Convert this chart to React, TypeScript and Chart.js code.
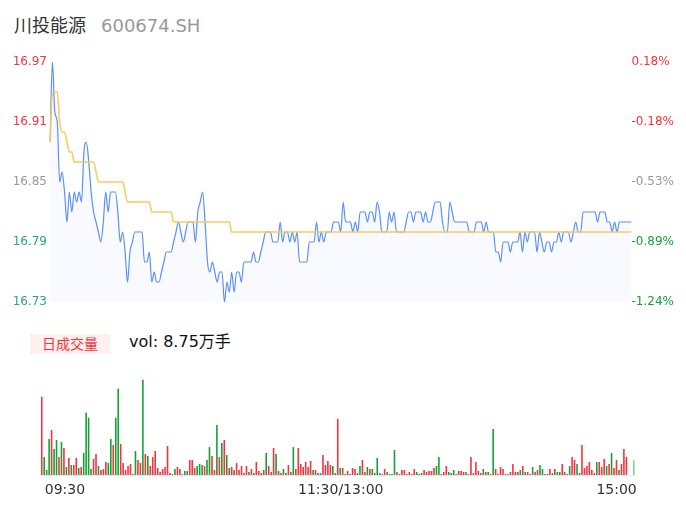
import { useEffect, useRef } from 'react';
import { Chart, registerables } from 'chart.js';

Chart.register(...registerables);

const FONT = '"DejaVu Sans", "Noto Sans CJK SC", sans-serif';

const STOCK_NAME = '川投能源';
const STOCK_CODE = '600674.SH';
const VOL_TEXT = 'vol: 8.75万手';
const VOL_TAG = '日成交量';

const PRICE_TICKS = [16.73, 16.79, 16.85, 16.91, 16.97];
const PRICE_TICK_LABELS = ['16.73', '16.79', '16.85', '16.91', '16.97'];
const PCT_TICK_LABELS = ['-1.24%', '-0.89%', '-0.53%', '-0.18%', '0.18%'];
const X_TICK_LABELS = ['09:30', '11:30/13:00', '15:00'];

const RED = '#f5333f';
const GREEN = '#17a035';
const LEFT_GREEN = '#2aa67d';
const GRAY = '#999999';
const LEFT_TICK_COLORS = [LEFT_GREEN, LEFT_GREEN, GRAY, RED, RED];
const RIGHT_TICK_COLORS = [GREEN, GREEN, GRAY, RED, RED];

// minute price (241 points, 09:30 .. 11:30/13:00 .. 15:00)
const PRICE = [
  16.89, 16.97, 16.92, 16.91, 16.85, 16.86, 16.84, 16.81, 16.84, 16.82,
  16.84, 16.83, 16.84, 16.83, 16.88, 16.89, 16.87, 16.84, 16.82, 16.81,
  16.80, 16.79, 16.81, 16.84, 16.82, 16.84, 16.84, 16.84, 16.82, 16.79,
  16.80, 16.78, 16.75, 16.78, 16.79, 16.80, 16.80, 16.80, 16.80, 16.77,
  16.77, 16.78, 16.75, 16.76, 16.75, 16.75, 16.76, 16.77, 16.78, 16.78,
  16.78, 16.79, 16.80, 16.81, 16.80, 16.79, 16.80, 16.81, 16.81, 16.81,
  16.79, 16.82, 16.83, 16.84, 16.81, 16.77, 16.76, 16.77, 16.76, 16.75,
  16.76, 16.76, 16.73, 16.75, 16.74, 16.76, 16.74, 16.76, 16.76, 16.75,
  16.77, 16.77, 16.77, 16.77, 16.78, 16.77, 16.77, 16.78, 16.79, 16.80,
  16.80, 16.80, 16.79, 16.79, 16.79, 16.81, 16.79, 16.80, 16.80, 16.79,
  16.80, 16.79, 16.80, 16.77, 16.77, 16.77, 16.77, 16.79, 16.79, 16.79,
  16.81, 16.79, 16.80, 16.79, 16.80, 16.80, 16.80, 16.81, 16.81, 16.81,
  16.80, 16.83, 16.81, 16.81, 16.81, 16.80, 16.81, 16.80, 16.82, 16.82,
  16.82, 16.81, 16.82, 16.82, 16.81, 16.83, 16.82, 16.80, 16.80, 16.80,
  16.82, 16.81, 16.82, 16.80, 16.80, 16.80, 16.80, 16.81, 16.82, 16.82,
  16.81, 16.82, 16.82, 16.82, 16.81, 16.82, 16.81, 16.81, 16.82, 16.83,
  16.83, 16.83, 16.81, 16.80, 16.80, 16.83, 16.82, 16.81, 16.81, 16.81,
  16.81, 16.81, 16.81, 16.80, 16.80, 16.80, 16.81, 16.81, 16.81, 16.80,
  16.81, 16.80, 16.80, 16.80, 16.78, 16.78, 16.77, 16.79, 16.79, 16.79,
  16.78, 16.79, 16.79, 16.79, 16.80, 16.78, 16.80, 16.79, 16.80, 16.80,
  16.80, 16.78, 16.80, 16.79, 16.78, 16.79, 16.79, 16.78, 16.79, 16.79,
  16.80, 16.79, 16.80, 16.80, 16.80, 16.79, 16.80, 16.81, 16.80, 16.80,
  16.82, 16.82, 16.82, 16.82, 16.82, 16.82, 16.81, 16.82, 16.82, 16.82,
  16.81, 16.81, 16.80, 16.81, 16.80, 16.81, 16.81, 16.81, 16.81, 16.81,
  16.81,
];

// average price line
const AVG = [
  16.89, 16.94, 16.94, 16.94, 16.91, 16.90, 16.90, 16.89, 16.88, 16.88,
  16.87, 16.87, 16.87, 16.87, 16.87, 16.87, 16.87, 16.87, 16.87, 16.86,
  16.85, 16.85, 16.85, 16.85, 16.85, 16.85, 16.85, 16.85, 16.85, 16.85,
  16.85, 16.84, 16.83, 16.83, 16.83, 16.83, 16.83, 16.83, 16.83, 16.83,
  16.83, 16.83, 16.82, 16.82, 16.82, 16.82, 16.82, 16.82, 16.82, 16.82,
  16.82, 16.81, 16.81, 16.81, 16.81, 16.81, 16.81, 16.81, 16.81, 16.81,
  16.81, 16.81, 16.81, 16.81, 16.81, 16.81, 16.81, 16.81, 16.81, 16.81,
  16.81, 16.81, 16.81, 16.81, 16.81, 16.80, 16.80, 16.80, 16.80, 16.80,
  16.80, 16.80, 16.80, 16.80, 16.80, 16.80, 16.80, 16.80, 16.80, 16.80,
  16.80, 16.80, 16.80, 16.80, 16.80, 16.80, 16.80, 16.80, 16.80, 16.80,
  16.80, 16.80, 16.80, 16.80, 16.80, 16.80, 16.80, 16.80, 16.80, 16.80,
  16.80, 16.80, 16.80, 16.80, 16.80, 16.80, 16.80, 16.80, 16.80, 16.80,
  16.80, 16.80, 16.80, 16.80, 16.80, 16.80, 16.80, 16.80, 16.80, 16.80,
  16.80, 16.80, 16.80, 16.80, 16.80, 16.80, 16.80, 16.80, 16.80, 16.80,
  16.80, 16.80, 16.80, 16.80, 16.80, 16.80, 16.80, 16.80, 16.80, 16.80,
  16.80, 16.80, 16.80, 16.80, 16.80, 16.80, 16.80, 16.80, 16.80, 16.80,
  16.80, 16.80, 16.80, 16.80, 16.80, 16.80, 16.80, 16.80, 16.80, 16.80,
  16.80, 16.80, 16.80, 16.80, 16.80, 16.80, 16.80, 16.80, 16.80, 16.80,
  16.80, 16.80, 16.80, 16.80, 16.80, 16.80, 16.80, 16.80, 16.80, 16.80,
  16.80, 16.80, 16.80, 16.80, 16.80, 16.80, 16.80, 16.80, 16.80, 16.80,
  16.80, 16.80, 16.80, 16.80, 16.80, 16.80, 16.80, 16.80, 16.80, 16.80,
  16.80, 16.80, 16.80, 16.80, 16.80, 16.80, 16.80, 16.80, 16.80, 16.80,
  16.80, 16.80, 16.80, 16.80, 16.80, 16.80, 16.80, 16.80, 16.80, 16.80,
  16.80, 16.80, 16.80, 16.80, 16.80, 16.80, 16.80, 16.80, 16.80, 16.80,
  16.80,
];

// minute volume (手)
const VOL = [
  2418, 558, 155, 1116, 1395, 806, 1085, 558, 1023, 837,
  248, 527, 310, 310, 527, 217, 248, 682, 1922, 1767,
  186, 496, 651, 279, 155, 186, 403, 372, 1116, 930,
  1767, 2666, 961, 372, 155, 279, 341, 31, 744, 465,
  372, 2945, 651, 589, 279, 558, 744, 217, 93, 186,
  248, 899, 62, 31, 186, 248, 186, 31, 124, 124,
  465, 465, 217, 279, 341, 310, 279, 465, 868, 589,
  155, 1550, 558, 992, 1085, 620, 217, 248, 155, 372,
  155, 279, 62, 279, 93, 186, 62, 403, 124, 62,
  155, 682, 279, 93, 837, 651, 124, 62, 186, 62,
  310, 93, 868, 186, 837, 341, 248, 403, 248, 434,
  155, 155, 62, 62, 620, 310, 434, 310, 279, 62,
  1736, 217, 217, 31, 124, 31, 217, 186, 62, 279,
  465, 93, 248, 186, 186, 62, 527, 62, 31, 186,
  93, 31, 31, 775, 93, 31, 155, 155, 31, 93,
  31, 186, 93, 31, 62, 155, 93, 124, 124, 217,
  279, 558, 31, 93, 279, 93, 62, 155, 31, 124,
  124, 93, 93, 31, 558, 62, 403, 124, 62, 186,
  93, 93, 31, 1426, 186, 31, 248, 186, 31, 31,
  93, 341, 93, 93, 155, 279, 93, 93, 31, 248,
  93, 155, 310, 186, 31, 31, 186, 62, 186, 93,
  93, 341, 93, 31, 279, 558, 465, 341, 62, 930,
  217, 279, 403, 155, 62, 403, 403, 248, 496, 279,
  341, 682, 217, 465, 155, 341, 806, 558, 0, 0,
  465,
];

// 1 = up (red), 0 = down (green), 2 = closing auction
const VOL_DIR = [
  1, 0, 0, 0, 1, 0, 0, 1, 0, 1,
  0, 1, 0, 1, 1, 0, 1, 0, 0, 0,
  0, 1, 1, 0, 1, 1, 1, 0, 0, 1,
  0, 0, 1, 1, 1, 1, 1, 1, 0, 1,
  1, 0, 1, 0, 1, 1, 1, 1, 1, 1,
  1, 1, 1, 0, 0, 1, 1, 1, 0, 0,
  1, 1, 1, 0, 0, 0, 1, 0, 0, 1,
  1, 0, 1, 0, 1, 0, 1, 1, 0, 1,
  1, 1, 1, 1, 0, 1, 1, 1, 1, 1,
  1, 0, 1, 1, 1, 0, 1, 1, 0, 1,
  1, 0, 0, 1, 1, 1, 1, 1, 1, 1,
  0, 1, 0, 0, 1, 1, 1, 1, 0, 1,
  1, 0, 1, 0, 1, 0, 1, 1, 0, 0,
  1, 1, 0, 1, 0, 0, 0, 1, 1, 1,
  0, 0, 0, 0, 1, 1, 1, 1, 0, 1,
  1, 1, 0, 0, 0, 1, 1, 1, 1, 1,
  0, 0, 1, 1, 1, 0, 0, 0, 1, 1,
  1, 1, 0, 1, 1, 1, 1, 1, 1, 0,
  1, 0, 1, 0, 1, 1, 1, 1, 1, 0,
  1, 1, 1, 1, 0, 1, 0, 1, 1, 0,
  1, 1, 0, 0, 1, 1, 1, 0, 1, 0,
  0, 1, 1, 1, 0, 1, 1, 0, 1, 1,
  1, 1, 1, 1, 1, 0, 1, 1, 1, 0,
  1, 0, 1, 1, 0, 1, 1, 1, 1, 1,
  2,
];

function buildMinuteLabels(): string[] {
  const out: string[] = [];
  const pad = (n: number) => (n < 10 ? '0' + n : '' + n);
  for (let m = 9 * 60 + 30; m < 11 * 60 + 30; m++) out.push(pad(Math.floor(m / 60)) + ':' + pad(m % 60));
  out.push('11:30/13:00');
  for (let m = 13 * 60 + 1; m <= 15 * 60; m++) out.push(pad(Math.floor(m / 60)) + ':' + pad(m % 60));
  return out;
}
const MINUTES = buildMinuteLabels();

export default function App() {
  const priceRef = useRef<HTMLCanvasElement>(null);
  const volRef = useRef<HTMLCanvasElement>(null);

  useEffect(() => {
    const price = new Chart(priceRef.current!, {
      type: 'line',
      data: {
        labels: MINUTES,
        datasets: [
          {
            data: AVG,
            borderColor: 'rgba(250,200,88,0.95)',
            borderWidth: 1.6,
            pointRadius: 0,
            fill: false,
            cubicInterpolationMode: 'monotone',
            yAxisID: 'y',
          },
          {
            data: PRICE,
            borderColor: '#5b8ff9',
            borderWidth: 1.2,
            pointRadius: 0,
            fill: 'start',
            backgroundColor: 'rgba(91,143,249,0.045)',
            cubicInterpolationMode: 'monotone',
            yAxisID: 'y',
          },
        ],
      },
      options: {
        responsive: false,
        animation: false,
        layout: { padding: { top: 12, bottom: 12, left: 0, right: 0 } },
        plugins: { legend: { display: false }, tooltip: { enabled: false } },
        scales: {
          x: { display: false },
          y: {
            position: 'left',
            min: 16.73,
            max: 16.97,
            grid: { display: false, drawTicks: false },
            border: { display: false },
            afterBuildTicks: (s: any) => {
              s.ticks = PRICE_TICKS.map((v) => ({ value: v }));
            },
            afterFit: (s: any) => {
              s.width = 50;
            },
            ticks: {
              padding: 3,
              font: { size: 12, family: FONT },
              color: (ctx: any) => LEFT_TICK_COLORS[ctx.index],
              callback: (_v: any, i: number) => PRICE_TICK_LABELS[i],
            },
          },
          y2: {
            position: 'right',
            min: 16.73,
            max: 16.97,
            grid: { display: false, drawTicks: false },
            border: { display: false },
            afterBuildTicks: (s: any) => {
              s.ticks = PRICE_TICKS.map((v) => ({ value: v }));
            },
            afterFit: (s: any) => {
              s.width = 54.5;
            },
            ticks: {
              padding: 0,
              font: { size: 12, family: FONT },
              color: (ctx: any) => RIGHT_TICK_COLORS[ctx.index],
              callback: (_v: any, i: number) => PCT_TICK_LABELS[i],
            },
          },
        },
      },
    } as any);

    const vol = new Chart(volRef.current!, {
      type: 'bar',
      data: {
        labels: MINUTES,
        datasets: [
          {
            data: VOL,
            backgroundColor: VOL_DIR.map((d) => (d === 1 ? RED : d === 0 ? GREEN : 'rgba(23,160,53,0.5)')),
            barPercentage: 0.65,
            categoryPercentage: 1,
          },
        ],
      },
      options: {
        responsive: false,
        animation: false,
        layout: { padding: { top: 8, bottom: 5, left: 40.5, right: 51 } },
        plugins: { legend: { display: false }, tooltip: { enabled: false } },
        scales: {
          x: {
            grid: { display: false, drawTicks: false },
            border: { display: true, color: '#e6e6e6' },
            afterFit: (s: any) => {
              s.height = 30;
            },
            ticks: {
              autoSkip: false,
              maxRotation: 0,
              minRotation: 0,
              align: 'inner',
              padding: 7,
              labelOffset: 3,
              font: { size: 14, family: FONT },
              color: '#333333',
              callback: function (this: any, v: any) {
                const l = this.getLabelForValue(v);
                return X_TICK_LABELS.includes(l) ? l : '';
              },
            },
          },
          y: { display: false, min: 0, max: 3000 },
        },
      },
    } as any);

    return () => {
      price.destroy();
      vol.destroy();
    };
  }, []);

  return (
    <div
      style={{
        position: 'absolute',
        left: 0,
        top: 0,
        width: 686,
        height: 524,
        background: '#ffffff',
        fontFamily: FONT,
        overflow: 'hidden',
      }}
    >
      <div style={{ position: 'absolute', left: 14, top: 14, fontSize: 18, lineHeight: '24px', whiteSpace: 'nowrap' }}>
        <span style={{ color: '#333333' }}>{STOCK_NAME}</span>
        <span style={{ color: '#999999', marginLeft: 15 }}>{STOCK_CODE}</span>
      </div>
      <canvas ref={priceRef} width={686} height={264} style={{ position: 'absolute', left: 0, top: 50 }} />
      <div
        style={{
          position: 'absolute',
          left: 30,
          top: 334,
          width: 80,
          height: 20,
          background: '#fef0ec',
          color: RED,
          fontSize: 14,
          lineHeight: '20px',
          textAlign: 'center',
        }}
      >
        {VOL_TAG}
      </div>
      <div style={{ position: 'absolute', left: 129, top: 332, fontSize: 16, lineHeight: '20px', color: '#111111', whiteSpace: 'nowrap' }}>
        {VOL_TEXT}
      </div>
      <canvas ref={volRef} width={686} height={140} style={{ position: 'absolute', left: 0, top: 370 }} />
    </div>
  );
}
